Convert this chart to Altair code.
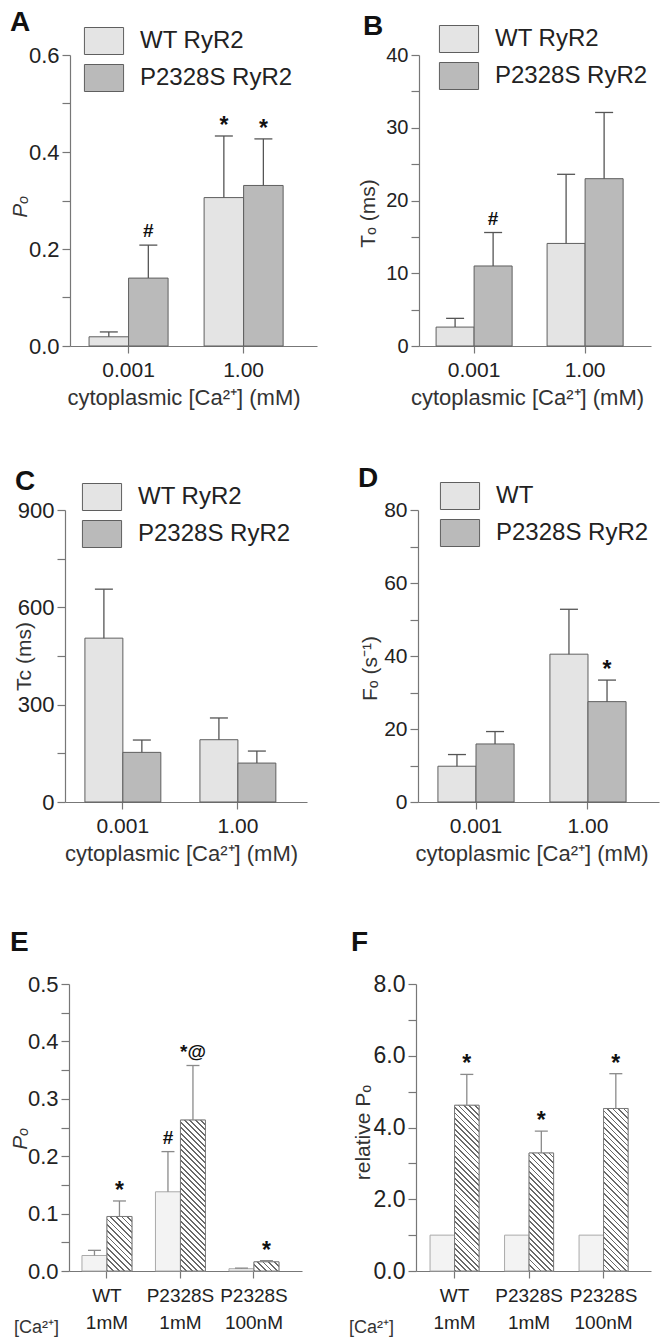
import json
import altair as alt
import pandas as pd

FONT = "Liberation Sans"

# ---------------- data ----------------
ca_groups = ["0.001", "1.00"]
ser_ryr = ["WT RyR2", "P2328S RyR2"]
ser_d = ["WT", "P2328S RyR2"]

a_wt_mean = [0.019, 0.306]
a_wt_sem = [0.010, 0.127]
a_wt_ann = ["", "*"]
a_mut_mean = [0.140, 0.331]
a_mut_sem = [0.068, 0.096]
a_mut_ann = ["#", "*"]

b_wt_mean = [2.6, 14.1]
b_wt_sem = [1.2, 9.5]
b_wt_ann = ["", ""]
b_mut_mean = [11.0, 23.0]
b_mut_sem = [4.6, 9.1]
b_mut_ann = ["#", ""]

c_wt_mean = [505, 192]
c_wt_sem = [151, 67]
c_wt_ann = ["", ""]
c_mut_mean = [153, 120]
c_mut_sem = [38, 37]
c_mut_ann = ["", ""]

d_wt_mean = [9.8, 40.5]
d_wt_sem = [3.2, 12.3]
d_wt_ann = ["", ""]
d_mut_mean = [15.9, 27.5]
d_mut_sem = [3.4, 5.9]
d_mut_ann = ["", "*"]

atp_groups = ["WT|1mM", "P2328S|1mM", "P2328S|100nM"]
ser_atp = ["control", "ATP"]

e_ctl_mean = [0.027, 0.138, 0.004]
e_ctl_sem = [0.009, 0.070, 0.001]
e_ctl_ann = ["", "#", ""]
e_atp_mean = [0.095, 0.263, 0.016]
e_atp_sem = [0.027, 0.095, 0.002]
e_atp_ann = ["*", "*@", "*"]

f_ctl_mean = [1.0, 1.0, 1.0]
f_ctl_sem = [None, None, None]
f_ctl_ann = ["", "", ""]
f_atp_mean = [4.62, 3.29, 4.53]
f_atp_sem = [0.86, 0.61, 0.97]
f_atp_ann = ["*", "*", "*"]


def build_df(groups, series, means, sems, anns):
    rows = []
    for s, ms, ss, aa in zip(series, means, sems, anns):
        for g, m, e, a in zip(groups, ms, ss, aa):
            rows.append({"grp": g, "ser": s, "mean": m,
                         "top": (m + e) if e is not None else None, "ann": a})
    return pd.DataFrame(rows)


SYM = "M-1.45,-1H1.45V1H-1.45Z"


def hatch(w, h, period=5.5, frac=0.32, dark="#6a6a6a", light="#ffffff"):
    L = w + h
    n = max(1, int(round(L / period)))
    a = L / (w * w + h * h)
    stops = []
    for k in range(n):
        s0 = round(k / n, 5)
        s1 = round((k + frac) / n, 5)
        s2 = round((k + 1) / n, 5)
        stops += [{"offset": s0, "color": dark}, {"offset": s1, "color": dark},
                  {"offset": s1, "color": light}, {"offset": s2, "color": light}]
    return {"gradient": "linear", "x1": 0, "y1": 1,
            "x2": round(a * w, 6), "y2": round(1 - a * h, 6), "stops": stops}


def panel(df, groups, series, *, W, H, ymax, ystep, ymajor, yfmt, ytitle, ytx, yty,
          pi, po, al, fills, strokes, bar_stroke, err_col, cap, leg_x, leg_y,
          letter, loff, ldx, xaxis, ylab=21, italic=False, hatch_series=None,
          top_gap=0, lg=0):
    n = int(round(ymax / ystep))
    vals = [round(i * ystep, 6) for i in range(n + 1)]
    label_expr = (f"abs(datum.value / {ymajor} - round(datum.value / {ymajor})) < 1e-6 "
                  f"? format(datum.value, '{yfmt}') : ''")
    xs = dict(domain=groups, paddingInner=pi, paddingOuter=po, align=al)
    if lg:
        xs["range"] = [lg, W + lg]
    x = alt.X("grp:N", sort=groups, scale=alt.Scale(**xs), axis=alt.Axis(**xaxis))
    xo = alt.XOffset("ser:N", sort=series,
                     scale=alt.Scale(domain=series, paddingInner=0, paddingOuter=0))
    ykw = dict(values=vals, labelExpr=label_expr, title=ytitle, titleX=ytx,
               titleY=yty + top_gap, titleAngle=270, titleAlign="center",
               titleBaseline="middle", tickSize=8, labelPadding=3, labelOverlap=False,
               labelFontSize=ylab, titleFontSize=21)
    if italic:
        ykw["titleFontStyle"] = "italic"
    if lg:
        ykw["offset"] = -lg
    yaxis = alt.Axis(**ykw)
    VH = H + top_gap
    if top_gap:
        yscale = alt.Scale(domain=[0, ymax], nice=False, zero=True, range=[VH, top_gap])
    else:
        yscale = alt.Scale(domain=[0, ymax], nice=False, zero=True)

    def yenc(field):
        return alt.Y(f"{field}:Q", scale=yscale, axis=yaxis)

    leg_common = dict(title=None, orient="none", legendX=leg_x + lg, legendY=leg_y + top_gap,
                      direction="vertical", symbolType=SYM, symbolSize=729,
                      symbolStrokeWidth=1, symbolOpacity=1, labelFontSize=24,
                      labelColor="#222", labelFont=FONT, labelOffset=22, rowPadding=5,
                      padding=0)

    base = alt.Chart(df)
    if hatch_series is None:
        bars = base.mark_bar(stroke=bar_stroke, strokeWidth=1, opacity=1).encode(
            x=x, xOffset=xo, y=yenc("mean"),
            fill=alt.Fill("ser:N", sort=series, scale=alt.Scale(domain=series, range=fills),
                          legend=alt.Legend(**leg_common)))
    else:
        g = json.dumps(hatch(39, 27))
        fill_expr = f"datum.label === '{hatch_series}' ? {g} : '{fills[0]}'"
        stroke_expr = f"datum.label === '{hatch_series}' ? '{strokes[1]}' : '{strokes[0]}'"
        leg = alt.Legend(symbolFillColor=alt.ExprRef(fill_expr),
                         symbolStrokeColor=alt.ExprRef(stroke_expr), **leg_common)
        bars = base.mark_bar(stroke=bar_stroke, strokeWidth=1).encode(
            x=x, xOffset=xo, y=yenc("mean"),
            fill=alt.Fill("ser:N", sort=series, scale=alt.Scale(domain=series, range=fills),
                          legend=None),
            opacity=alt.Opacity("ser:N", sort=series,
                                scale=alt.Scale(domain=series, range=[1, 1]), legend=leg))
    layers = [bars]
    if hatch_series is not None:
        step = W / (len(groups) - pi + 2 * po)
        w = step * (1 - pi) / 2
        sub = df[df["ser"] == hatch_series]
        for gname, m in zip(sub["grp"], sub["mean"]):
            h = max(1.0, m / ymax * H)
            layers.append(
                base.transform_filter(f"datum.ser === '{hatch_series}' && datum.grp === '{gname}'")
                .mark_bar(fill=hatch(w, h), stroke=strokes[1], strokeWidth=1)
                .encode(x=x, xOffset=xo, y=yenc("mean")))

    err = base.transform_filter("isValid(datum.top)")
    rules = err.mark_rule(color=err_col, strokeWidth=1.3).encode(
        x=x, xOffset=xo, y=yenc("mean"), y2="top:Q")
    caps = err.mark_tick(orient="horizontal", size=cap, thickness=1.3, color=err_col,
                         opacity=1).encode(x=x, xOffset=xo, y=yenc("top"))
    anns = base.transform_filter("datum.ann !== ''").transform_calculate(
        ypos="isValid(datum.top) ? datum.top : datum.mean")
    stars = anns.transform_filter("datum.ann === '*'").mark_text(
        fontSize=23, fontWeight="bold", font=FONT, color="#111", baseline="alphabetic",
        dy=-3).encode(x=x, xOffset=xo, y=yenc("ypos"), text="ann:N")
    others = anns.transform_filter("datum.ann !== '*'").mark_text(
        fontSize=19, fontWeight="bold", font=FONT, color="#111", baseline="alphabetic",
        dy=-8).encode(x=x, xOffset=xo, y=yenc("ypos"), text="ann:N")
    layers += [rules, caps, stars, others]
    return alt.layer(*layers).properties(
        width=W + lg, height=VH,
        title=alt.TitleParams(letter, anchor="start", frame="group", dx=ldx + lg, offset=loff,
                              fontSize=28, fontWeight="bold", font=FONT, color="#111"))


def xaxis_ad(W):
    return dict(title="cytoplasmic  [Ca²⁺] (mM)", labelAngle=0, tickSize=7, labelPadding=6,
                titlePadding=7, labelFontSize=21, titleFontSize=22, titleX=W / 2 - 5,
                titleAlign="center")


def xaxis_ef(tx):
    return dict(title="[Ca²⁺]", labelAngle=0, tickSize=7, labelPadding=8,
                labelExpr="split(datum.label, '|')", labelLineHeight=27, labelFontSize=19,
                titleFontSize=18, titleAngle=0, titleX=tx, titleY=56, titleAlign="center",
                titleBaseline="middle")


ad_fills = ["#e4e4e4", "#bababa"]
ad_strokes = ["#5f5f5f", "#555555"]
ef_fills = ["#f3f3f3", "#bdbdbd"]
ef_strokes = ["#aaaaaa", "#7a7a7a"]

pA = panel(build_df(ca_groups, ser_ryr, [a_wt_mean, a_mut_mean], [a_wt_sem, a_mut_sem],
                    [a_wt_ann, a_mut_ann]), ca_groups, ser_ryr,
           W=247, H=291, ymax=0.6, ystep=0.1, ymajor=0.2, yfmt=".1f", ytitle="Pₒ",
           ytx=-50, yty=151, pi=0.313, po=0.23, al=0.36, fills=ad_fills, strokes=ad_strokes,
           bar_stroke="#5f5f5f", err_col="#555", cap=18, leg_x=20, leg_y=-28,
           letter="A", loff=-10, ldx=-60, xaxis=xaxis_ad(247), ylab=22, italic=True, lg=5)
pB = panel(build_df(ca_groups, ser_ryr, [b_wt_mean, b_mut_mean], [b_wt_sem, b_mut_sem],
                    [b_wt_ann, b_mut_ann]), ca_groups, ser_ryr,
           W=232, H=291, ymax=40, ystep=5, ymajor=10, yfmt="d", ytitle="Tₒ (ms)",
           ytx=-51, yty=158, pi=0.315, po=0.2025, al=0.38, fills=ad_fills, strokes=ad_strokes,
           bar_stroke="#5f5f5f", err_col="#555", cap=18, leg_x=26, leg_y=-30,
           letter="B", loff=-16, ldx=-56, xaxis=xaxis_ad(232), ylab=20, lg=3)
pC = panel(build_df(ca_groups, ser_ryr, [c_wt_mean, c_mut_mean], [c_wt_sem, c_mut_sem],
                    [c_wt_ann, c_mut_ann]), ca_groups, ser_ryr,
           W=242, H=292, ymax=900, ystep=150, ymajor=300, yfmt="d", ytitle="Tc (ms)",
           ytx=-41, yty=146, pi=0.34, po=0.222, al=0.39, fills=ad_fills, strokes=ad_strokes,
           bar_stroke="#5f5f5f", err_col="#555", cap=18, leg_x=23, leg_y=-27,
           letter="C", loff=-13, ldx=-50, xaxis=xaxis_ad(242), ylab=22)
pD = panel(build_df(ca_groups, ser_d, [d_wt_mean, d_mut_mean], [d_wt_sem, d_mut_sem],
                    [d_wt_ann, d_mut_ann]), ca_groups, ser_d,
           W=241, H=292, ymax=80, ystep=10, ymajor=20, yfmt="d", ytitle="Fₒ (s⁻¹)",
           ytx=-48, yty=158, pi=0.32, po=0.236, al=0.377, fills=ad_fills, strokes=ad_strokes,
           bar_stroke="#5f5f5f", err_col="#555", cap=18, leg_x=28, leg_y=-28,
           letter="D", loff=-11, ldx=-60, xaxis=xaxis_ad(241), ylab=21, lg=2)
pE = panel(build_df(atp_groups, ser_atp, [e_ctl_mean, e_atp_mean], [e_ctl_sem, e_atp_sem],
                    [e_ctl_ann, e_atp_ann]), atp_groups, ser_atp,
           W=233, H=287, ymax=0.5, ystep=0.05, ymajor=0.1, yfmt=".1f", ytitle="Pₒ",
           ytx=-49, yty=154, pi=0.32, po=0.245, al=0.36, fills=ef_fills, strokes=ef_strokes,
           bar_stroke="#aaaaaa", err_col="#8a8a8a", cap=13, leg_x=21, leg_y=-30,
           letter="E", loff=9, ldx=-59, xaxis=xaxis_ef(-29), ylab=22, italic=True,
           hatch_series="ATP", top_gap=18, lg=4)
pF = panel(build_df(atp_groups, ser_atp, [f_ctl_mean, f_atp_mean], [f_ctl_sem, f_atp_sem],
                    [f_ctl_ann, f_atp_ann]), atp_groups, ser_atp,
           W=235, H=287, ymax=8, ystep=1, ymajor=2, yfmt=".1f", ytitle="relative Pₒ",
           ytx=-53, yty=148, pi=0.342, po=0.248, al=0.38, fills=ef_fills, strokes=ef_strokes,
           bar_stroke="#aaaaaa", err_col="#8a8a8a", cap=13, leg_x=26, leg_y=-33,
           letter="F", loff=9, ldx=-65, xaxis=xaxis_ef(-45), ylab=23,
           hatch_series="ATP", top_gap=18)

chart = alt.concat(pA, pB, pC, pD, pE, pF, columns=2, bounds="flush", align="each",
                   spacing=alt.RowColnumber(row=164, column=99))
chart = chart.resolve_scale(fill="independent", xOffset="independent",
                            opacity="independent").resolve_legend(
    fill="independent", opacity="independent")

chart = chart.properties(padding=0).configure(font=FONT).configure_axis(
    domainColor="#777", tickColor="#777", domainWidth=1.2, tickWidth=1.2,
    labelColor="#222", titleColor="#333", labelFont=FONT, titleFont=FONT,
    titleFontWeight="normal", grid=False).configure_view(stroke="transparent")

chart.save("out.html", embed_options={"renderer": "svg", "actions": False})
